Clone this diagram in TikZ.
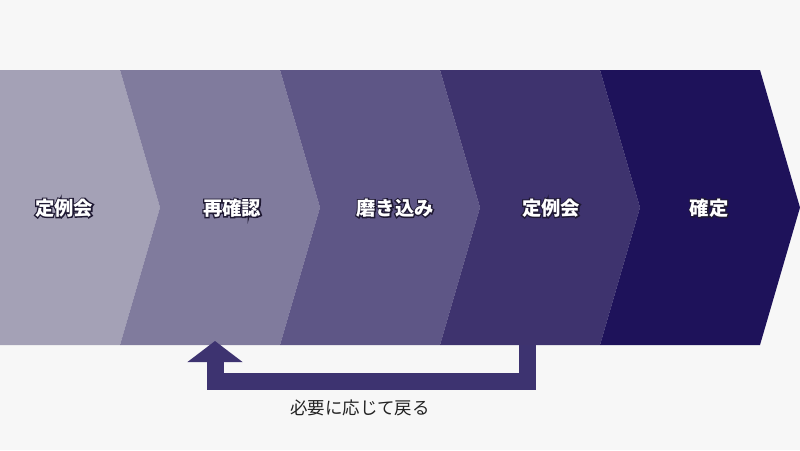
\documentclass[tikz,border=0pt]{standalone}
\usepackage{fontspec}
\setmainfont{Noto Sans CJK JP}
\usepackage{tikz}
\usetikzlibrary{arrows.meta}
\definecolor{bgcol}{HTML}{F7F7F7}
\definecolor{stepA}{HTML}{A4A1B6}
\definecolor{stepB}{HTML}{807B9D}
\definecolor{stepC}{HTML}{5E5686}
\definecolor{stepD}{HTML}{3E336E}
\definecolor{stepE}{HTML}{1E125A}
\definecolor{backcol}{HTML}{3D3370}
\definecolor{notecol}{HTML}{222222}
% stroked glyphs for the dark outline behind the labels
\newcommand{\outlined}[1]{\special{pdf:literal 1 Tr 1.8 w 0.12 0.1 0.2 RG}#1\special{pdf:literal 0 Tr}}
\tikzset{
  steplabel/.style={text=white, font=\fontsize{14.5pt}{16pt}\selectfont\bfseries, inner sep=0pt},
  stepglow/.style={steplabel, text=black},
  backline/.style={draw=backcol, line width=12.75pt, line cap=butt, line join=miter,
    -{Triangle[width=40.5pt, length=15.75pt]}},
  note/.style={text=notecol, font=\fontsize{13.1pt}{14pt}\selectfont, inner sep=0pt},
}
\begin{document}
\begin{tikzpicture}[x=0.75pt, y=-0.75pt]
\fill[bgcol] (0,0) rectangle (800,450);
% first step has a flat left side
\fill[stepA] (0,70) -- (120,70) -- (160,207.5) -- (120,345) -- (0,345) -- cycle;
\foreach \a/\col in {120/stepB, 280/stepC, 440/stepD, 600/stepE}{
    \fill[\col] (\a,70) -- (\a+160,70) -- (\a+200,207.5) -- (\a+160,345)
          -- (\a,345) -- (\a+40,207.5) -- cycle;
    }
% labels with a dark outline
\foreach \x/\name/\txt in {64/teirei/定例会, 232/kakunin/再確認, 395/migaki/磨き込み, 551/teireib/定例会, 709/kakutei/確定}{
    \node[stepglow] at (\x,208) {\outlined{\txt}};
    \node[steplabel] (\name) at (\x,208) {\txt};
    }
% loop back from the fourth step to the second one
\coordinate (from) at (527,345);
\coordinate (to) at (215,341);
\coordinate (turn) at (0,381.5);
\draw[backline] (from) -- (from|-turn) -- (to|-turn) -- (to);
\node[note] (back) at (360,408) {必要に応じて戻る};
\end{tikzpicture}
\end{document}
